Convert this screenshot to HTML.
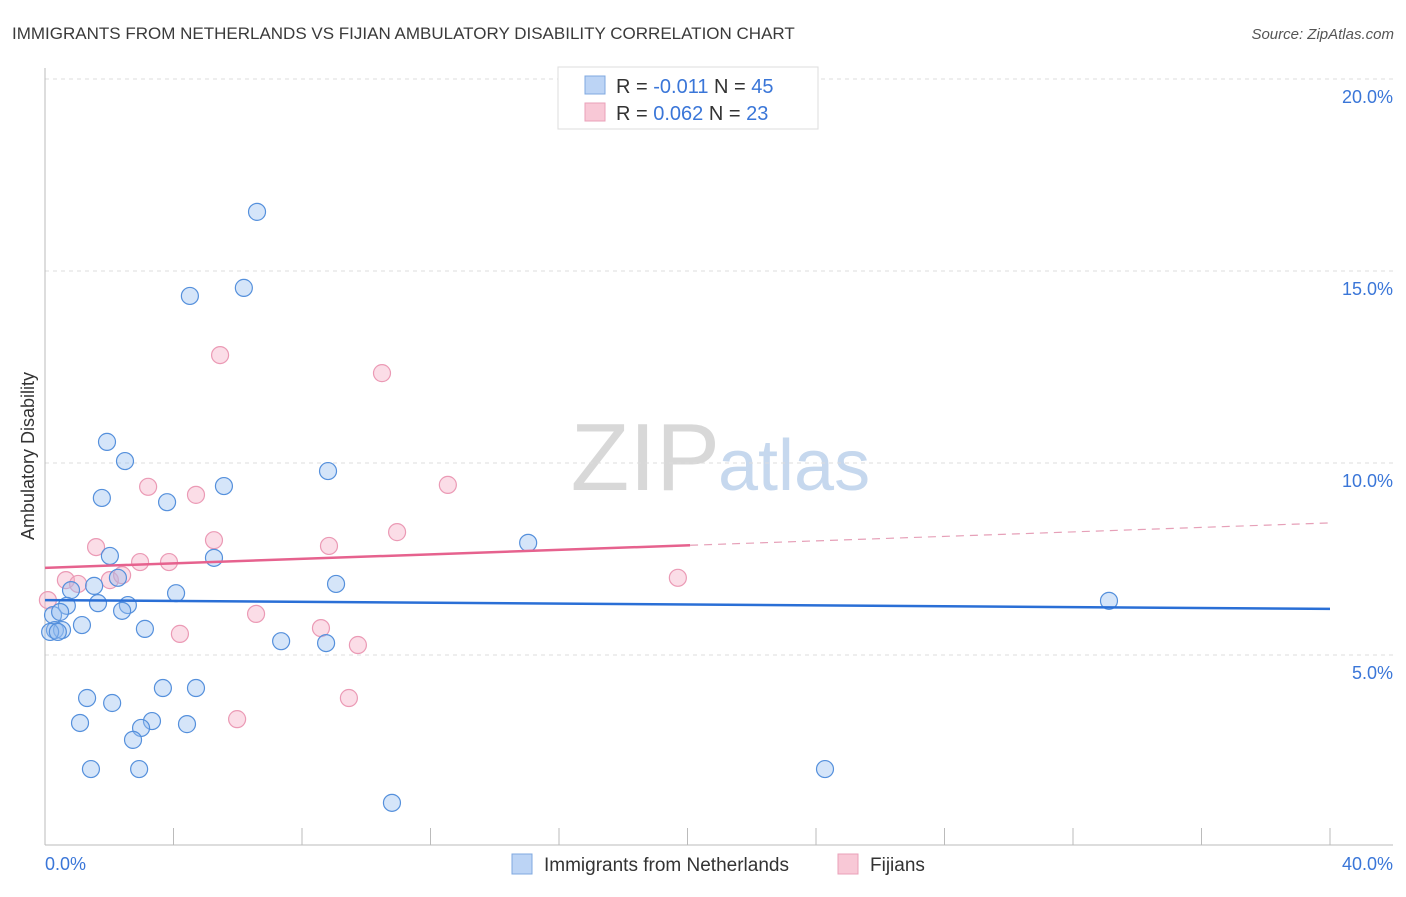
<!DOCTYPE html>
<html><head><meta charset="utf-8"><style>
body{margin:0;background:#fff;font-family:"Liberation Sans",sans-serif;}
svg text{font-family:"Liberation Sans",sans-serif;}
</style></head><body>
<svg width="1406" height="892" id="chart">
<text x="12" y="39" font-size="17" fill="#3a3a3a">IMMIGRANTS FROM NETHERLANDS VS FIJIAN AMBULATORY DISABILITY CORRELATION CHART</text>
<text x="1394" y="39" font-size="15" fill="#555" font-style="italic" text-anchor="end">Source: ZipAtlas.com</text>
<text x="720" y="490" font-size="96" fill="#d8d8d8" text-anchor="end" font-family="Liberation Serif">ZIP</text>
<text x="718" y="490" font-size="72" fill="#c6d8ee">atlas</text>
<g id="grid"></g><g id="axes"></g><g id="pts"></g><g id="trend"></g>
<text transform="translate(34,456) rotate(-90)" font-size="18" fill="#333" text-anchor="middle">Ambulatory Disability</text>
<g>
<rect x="558" y="67" width="260" height="62" fill="#fff" stroke="#ddd"/>
<rect x="585" y="76" width="20" height="18" fill="#bcd4f5" stroke="#7fa8e0"/>
<text x="616" y="93" font-size="20" fill="#333">R = <tspan fill="#3a76d8">-0.011</tspan>   N = <tspan fill="#3a76d8">45</tspan></text>
<rect x="585" y="103" width="20" height="18" fill="#f8c8d6" stroke="#eaa0b8"/>
<text x="616" y="120" font-size="20" fill="#333">R =  <tspan fill="#3a76d8">0.062</tspan>   N =  <tspan fill="#3a76d8">23</tspan></text>
</g>
<g>
<rect x="512" y="854" width="20" height="20" fill="#bcd4f5" stroke="#7fa8e0"/>
<text x="544" y="871" font-size="19" fill="#333">Immigrants from Netherlands</text>
<rect x="838" y="854" width="20" height="20" fill="#f8c8d6" stroke="#eaa0b8"/>
<text x="870" y="871" font-size="19" fill="#333">Fijians</text>
</g>
</svg>
<script>
const blueX=[6.60,4.51,6.19,1.93,2.49,1.77,3.80,5.57,8.81,15.04,2.02,5.26,2.27,1.53,0.81,9.06,4.08,0.68,1.65,2.58,2.40,0.25,1.15,3.11,0.31,0.53,0.16,0.40,7.35,8.75,33.12,1.31,2.09,3.67,4.70,1.09,3.33,2.99,4.42,2.74,1.43,2.93,24.28,10.80,0.47];
const blueY=[16.54,14.35,14.56,10.55,10.05,9.09,8.98,9.40,9.79,7.92,7.58,7.53,7.01,6.80,6.69,6.85,6.61,6.28,6.35,6.30,6.15,6.04,5.78,5.68,5.65,5.65,5.60,5.60,5.36,5.31,6.41,3.88,3.75,4.14,4.14,3.23,3.28,3.10,3.20,2.79,2.03,2.03,2.03,1.15,6.12];
const pinkX=[5.45,10.49,3.21,4.70,12.54,1.59,5.26,8.84,10.96,2.96,3.86,0.65,1.03,2.02,2.40,0.09,19.70,6.57,4.20,8.59,9.74,9.46,5.98];
const pinkY=[12.81,12.34,9.38,9.17,9.43,7.81,7.99,7.84,8.20,7.42,7.42,6.95,6.85,6.95,7.08,6.43,7.01,6.07,5.55,5.70,5.26,3.88,3.33];
const yTicks=[5,10,15,20];
const xTickLabels=["0.0%","40.0%"];
const blueTrend=[6.43,6.20];
const pinkTrend=[7.27,8.44];
const pinkSolidEnd=20.08;
const NS="http://www.w3.org/2000/svg";
const X=v=>45+v*1285/40, Y=v=>847-v*192/5;
function mk(p,t,a){const e=document.createElementNS(NS,t);for(const k in a)e.setAttribute(k,a[k]);p.appendChild(e);return e;}
const grid=document.getElementById('grid'),axes=document.getElementById('axes'),pts=document.getElementById('pts'),tr=document.getElementById('trend');
yTicks.forEach(t=>{
 const l=mk(grid,'line',{x1:45,x2:1393,y1:Y(t),y2:Y(t),stroke:'#ddd','stroke-dasharray':'4,4'});
 
 
 const tx=mk(grid,'text',{x:1393,y:Y(t)+24,'font-size':18,fill:'#3a76d8','text-anchor':'end'});
 tx.textContent=t.toFixed(1)+'%';
 
 
});
mk(axes,'line',{x1:45,x2:45,y1:68,y2:845,stroke:'#bbb'});
mk(axes,'line',{x1:45,x2:1393,y1:845,y2:845,stroke:'#bbb'});
for(let i=0;i<=10;i++){const l=mk(axes,'line',{x1:X(i*4),x2:X(i*4),y1:828,y2:845,stroke:'#bbb'});
 
 }
const xl0=mk(axes,'text',{x:45,y:870,'font-size':18,fill:'#3a76d8'});xl0.textContent=xTickLabels[0];


const xl1=mk(axes,'text',{x:1393,y:870,'font-size':18,fill:'#3a76d8','text-anchor':'end'});xl1.textContent=xTickLabels[1];


pinkX.forEach((v,i)=>{const c=mk(pts,'circle',{cx:X(v),cy:Y(pinkY[i]),r:8.5,fill:'rgba(245,170,195,0.4)',stroke:'#eb9ab5','stroke-width':1.2});
 
 });
blueX.forEach((v,i)=>{const c=mk(pts,'circle',{cx:X(v),cy:Y(blueY[i]),r:8.5,fill:'rgba(150,190,240,0.4)',stroke:'#5590dc','stroke-width':1.2});
 
 });
const bt=mk(tr,'line',{x1:X(0),x2:X(40),y1:Y(blueTrend[0]),y2:Y(blueTrend[1]),stroke:'#2a6fd6','stroke-width':2.5});


const pm=pinkTrend[0]+(pinkTrend[1]-pinkTrend[0])*pinkSolidEnd/40;
const pt=mk(tr,'line',{x1:X(0),x2:X(pinkSolidEnd),y1:Y(pinkTrend[0]),y2:Y(pm),stroke:'#e6628e','stroke-width':2.5});


const pd=mk(tr,'line',{x1:X(pinkSolidEnd),x2:X(40),y1:Y(pm),y2:Y(pinkTrend[1]),stroke:'#e6a0b8','stroke-width':1.2,'stroke-dasharray':'8,6'});


</script>
</body></html>
